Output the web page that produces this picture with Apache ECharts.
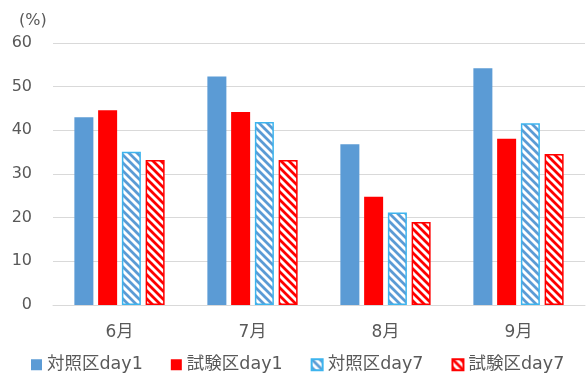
<!DOCTYPE html>
<html>
<head>
<meta charset="utf-8">
<script src="https://cdn.jsdelivr.net/npm/echarts@6/dist/echarts.min.js"></script>
<style>
  html, body { margin: 0; padding: 0; background: #fff; }
  #chart { width: 587px; height: 378px; }
</style>
</head>
<body>
<div id="chart"></div>
<script>
// Monthly results (%) for control and test plots, day 1 and day 7
const months = ['6月', '7月', '8月', '9月'];
const controlDay1 = [43.0, 52.3, 36.8, 54.2];
const testDay1 = [44.6, 44.2, 24.8, 38.1];
const controlDay7 = [35.1, 41.9, 21.2, 41.6];
const testDay7 = [33.2, 33.2, 19.0, 34.6];
const seriesNames = ['対照区day1', '試験区day1', '対照区day7', '試験区day7'];
const yTicks = { min: 0, max: 60, interval: 10 };

const BLUE = '#5B9BD5';
const RED = '#FF0000';
const TEXT = '#595959';
const FONT = '"DejaVu Sans", "Noto Sans CJK JP", sans-serif';

// Back-slash diagonal hatch on a white ground, tiled as a canvas pattern
function hatch(color) {
  const s = 8;
  const c = document.createElement('canvas');
  c.width = s; c.height = s;
  const g = c.getContext('2d');
  g.fillStyle = '#fff';
  g.fillRect(0, 0, s, s);
  g.strokeStyle = color;
  g.lineWidth = 2.8;
  g.beginPath();
  for (let k = -1; k <= 1; k++) {
    g.moveTo(k * s - 2, -2);
    g.lineTo(k * s + s + 2, s + 2);
  }
  g.stroke();
  return { image: c, repeat: 'repeat' };
}

const chart = echarts.init(document.getElementById('chart'), null, { renderer: 'canvas' });

const barBase = { type: 'bar', barWidth: 19, barGap: '25%' };

chart.setOption({
  animation: false,
  backgroundColor: '#fff',
  textStyle: { fontFamily: FONT },
  title: {
    text: '(%)',
    left: 14, top: 8,
    textStyle: { color: TEXT, fontSize: 16, fontWeight: 'normal', fontFamily: FONT }
  },
  grid: { left: 53, right: 2, top: 43, bottom: 73 },
  legend: {
    top: 356,
    left: 31,
    padding: 0,
    itemWidth: 11,
    itemHeight: 11,
    itemGap: 28,
    icon: 'rect',
    textStyle: { color: TEXT, fontSize: 17.5, fontFamily: FONT },
    data: seriesNames
  },
  xAxis: {
    type: 'category',
    data: months,
    axisLine: { lineStyle: { color: '#D9D9D9', width: 1 } },
    axisTick: { show: false },
    axisLabel: { color: TEXT, fontSize: 17, margin: 19, fontFamily: FONT }
  },
  yAxis: {
    type: 'value',
    min: yTicks.min, max: yTicks.max, interval: yTicks.interval,
    axisLine: { show: false },
    axisTick: { show: false },
    axisLabel: { color: TEXT, fontSize: 16, margin: 21, fontFamily: FONT },
    splitLine: { lineStyle: { color: '#D9D9D9', width: 1 } }
  },
  series: [
    Object.assign({}, barBase, {
      name: seriesNames[0], data: controlDay1,
      itemStyle: { color: BLUE }
    }),
    Object.assign({}, barBase, {
      name: seriesNames[1], data: testDay1,
      itemStyle: { color: RED }
    }),
    Object.assign({}, barBase, {
      name: seriesNames[2], data: controlDay7,
      itemStyle: { color: hatch(BLUE), borderColor: '#3DB4EE', borderWidth: 1.5 }
    }),
    Object.assign({}, barBase, {
      name: seriesNames[3], data: testDay7,
      itemStyle: { color: hatch(RED), borderColor: RED, borderWidth: 1.5 }
    })
  ]
});
</script>
</body>
</html>
